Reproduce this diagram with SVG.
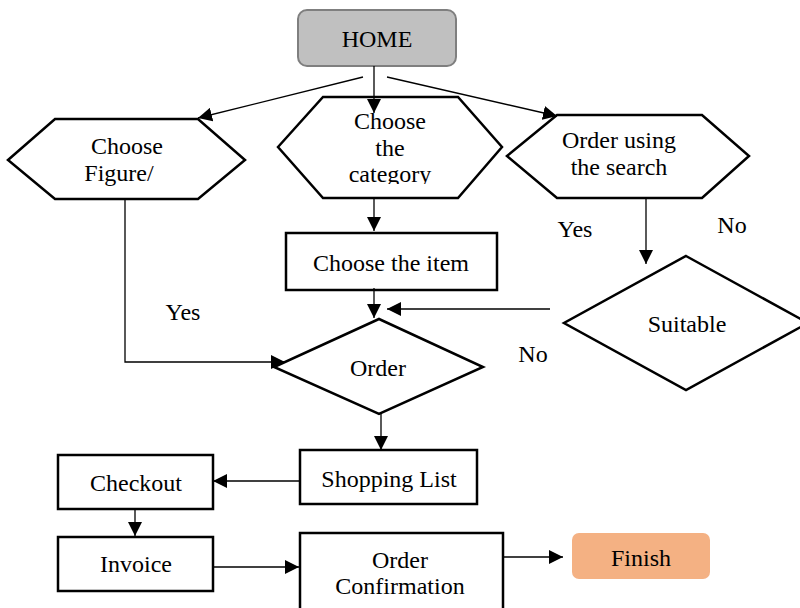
<svg xmlns="http://www.w3.org/2000/svg" width="800" height="608" viewBox="0 0 800 608">
<style>
.s{fill:#fff;stroke:#000;stroke-width:2.5}
.t{font-family:'Liberation Serif','Times New Roman',serif;font-size:24px;fill:#000;text-anchor:middle}
.c{fill:none;stroke:#000;stroke-width:1.3}
</style>
<defs>
<marker id="ah" markerUnits="userSpaceOnUse" markerWidth="14" markerHeight="14" refX="14" refY="7" orient="auto">
<path d="M0,0 L14,7 L0,14 z" fill="#000"/>
</marker>
<clipPath id="clipCat"><rect x="300" y="100" width="180" height="84"/></clipPath>
</defs>
<rect width="800" height="608" fill="#fff"/>
<g id="home">
<rect x="298" y="10" width="158" height="56" rx="9" fill="#c0c0c0" stroke="#7f7f7f" stroke-width="2"/>
<text class="t" x="377" y="47">HOME</text>
</g>
<g id="choose-figure">
<polygon class="s" points="8,160 55,119 198,119 245,160 198,199 55,199"/>
<text class="t" x="127" y="154">Choose</text>
<text class="t" x="119" y="181">Figure/</text>
</g>
<g id="choose-category">
<polygon class="s" points="278,147 323,97 458,97 502,147 458,198 323,198"/>
<g clip-path="url(#clipCat)">
<text class="t" x="390" y="129">Choose</text>
<text class="t" x="390" y="156">the</text>
<text class="t" x="390" y="182">category</text>
</g>
</g>
<g id="order-search">
<polygon class="s" points="507,156 557,115 702,115 749,156 702,198 557,198"/>
<text class="t" x="619" y="148">Order using</text>
<text class="t" x="619" y="175">the search</text>
</g>
<g id="choose-item">
<rect class="s" x="286" y="233" width="211" height="57"/>
<text class="t" x="391" y="271">Choose the item</text>
</g>
<g id="order">
<polygon class="s" points="379,319 483,367 379,414 274,367"/>
<text class="t" x="378" y="376">Order</text>
</g>
<g id="suitable">
<polygon class="s" points="686,256 808,323 686,390 564,323"/>
<text class="t" x="687" y="332">Suitable</text>
</g>
<g id="shopping-list">
<rect class="s" x="300" y="450" width="177" height="54"/>
<text class="t" x="389" y="487">Shopping List</text>
</g>
<g id="checkout">
<rect class="s" x="58" y="455" width="155" height="54"/>
<text class="t" x="136" y="491">Checkout</text>
</g>
<g id="invoice">
<rect class="s" x="58" y="537" width="155" height="54"/>
<text class="t" x="136" y="572">Invoice</text>
</g>
<g id="order-confirmation">
<rect class="s" x="300" y="533" width="203" height="90"/>
<text class="t" x="400" y="568">Order</text>
<text class="t" x="400" y="594">Confirmation</text>
</g>
<g id="finish">
<rect x="572" y="533" width="138" height="46" rx="7" fill="#f4b183"/>
<text class="t" x="641" y="566">Finish</text>
</g>
<g id="connectors">
<path class="c" d="M363,77 L198,118" marker-end="url(#ah)"/>
<path class="c" d="M374,66 L374,113" marker-end="url(#ah)"/>
<path class="c" d="M387,77 L557,116" marker-end="url(#ah)"/>
<path class="c" d="M125,199 L125,362 L285,362" marker-end="url(#ah)"/>
<path class="c" d="M374,198 L374,231" marker-end="url(#ah)"/>
<path class="c" d="M374,288 L374,318" marker-end="url(#ah)"/>
<path class="c" d="M550,309 L387,309" marker-end="url(#ah)"/>
<path class="c" d="M646,198 L646,264" marker-end="url(#ah)"/>
<path class="c" d="M381,414 L381,450" marker-end="url(#ah)"/>
<path class="c" d="M300,481 L213,481" marker-end="url(#ah)"/>
<path class="c" d="M135,509 L135,536" marker-end="url(#ah)"/>
<path class="c" d="M213,567 L299,567" marker-end="url(#ah)"/>
<path class="c" d="M503,557 L563,557" marker-end="url(#ah)"/>
</g>
<g id="labels">
<text class="t" x="575" y="237">Yes</text>
<text class="t" x="732" y="233">No</text>
<text class="t" x="533" y="362">No</text>
<text class="t" x="183" y="320">Yes</text>
</g>
</svg>
